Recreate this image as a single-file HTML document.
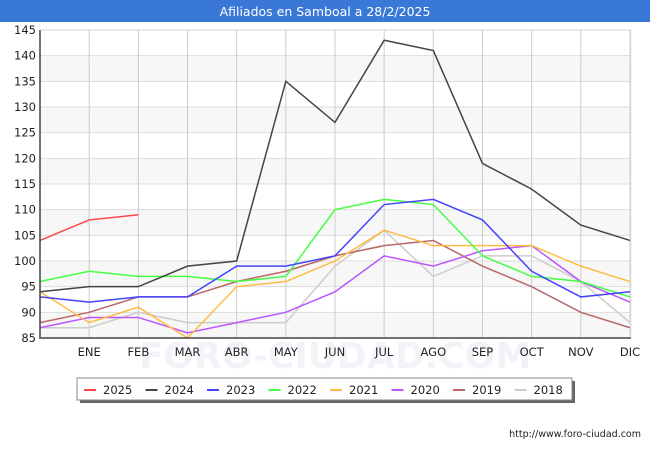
<!DOCTYPE html>
<html><head><meta charset="utf-8"><style>
body{margin:0;width:650px;height:450px;background:#fff;font-family:"DejaVu Sans","Liberation Sans",sans-serif;overflow:hidden}
</style></head><body>
<svg id="c" width="650" height="450" xmlns="http://www.w3.org/2000/svg" font-family="DejaVu Sans, Liberation Sans, sans-serif"></svg>
<script>
const months=["DIC","ENE","FEB","MAR","ABR","MAY","JUN","JUL","AGO","SEP","OCT","NOV","DIC"];
const yTicks=[85,90,95,100,105,110,115,120,125,130,135,140,145];
const seriesNames=["2025","2024","2023","2022","2021","2020","2019","2018"];
const seriesColors=["#ff4444","#444444","#4444ff","#44ff44","#ffbb44","#bb55ff","#bb6666","#cccccc"];
const s2025=[104,108,109];
const s2024=[94,95,95,99,100,135,127,143,141,119,114,107,104];
const s2023=[93,92,93,93,99,99,101,111,112,108,98,93,94];
const s2022=[96,98,97,97,96,97,110,112,111,101,97,96,93];
const s2021=[94,88,91,85,95,96,100,106,103,103,103,99,96];
const s2020=[87,89,89,86,88,90,94,101,99,102,103,96,92];
const s2019=[88,90,93,93,96,98,101,103,104,99,95,90,87];
const s2018=[87,87,90,88,88,88,99,106,97,101,101,96,88];
const seriesData=[s2025,s2024,s2023,s2022,s2021,s2020,s2019,s2018];

const svg=document.getElementById('c');
const NS="http://www.w3.org/2000/svg";
const L=40,R=630,T=30,B=338;
const x=i=>L+i*(R-L)/(months.length-1);
const y=v=>B-(v-85)*(B-T)/(145-85);
function mk(tag,attrs,parent){const e=document.createElementNS(NS,tag);for(const k in attrs)e.setAttribute(k,attrs[k]);(parent||svg).appendChild(e);return e;}

let e=mk('rect',{x:0,y:0,width:650,height:22,fill:"#3a78d8"});


e=mk('text',{x:325,y:16,fill:"#fff","font-size":12.5,"text-anchor":"middle"});e.textContent="Afiliados en Samboal a 28/2/2025";



for(let i=0;i<yTicks.length-1;i++){
  if(i%2===0){e=mk('rect',{x:L,y:y(yTicks[i+1]),width:R-L,height:y(yTicks[i])-y(yTicks[i+1]),fill:"#f7f7f7"});
  
  }
}
e=mk('text',{x:335,y:368,"font-size":36,"text-anchor":"middle",fill:"#f2f3f8","font-weight":"bold"});e.textContent="FORO-CIUDAD.COM";


yTicks.forEach(v=>{
  e=mk('line',{x1:L,x2:R,y1:y(v),y2:y(v),stroke:"#dddddd"});
  
  
  e=mk('text',{x:L-4,y:y(v)+4,"font-size":11.5,"text-anchor":"end",fill:"#222"});e.textContent=v;
  
  
});
months.forEach((m,i)=>{
  if(i===0)return;
  e=mk('line',{x1:x(i),x2:x(i),y1:T,y2:B,stroke:"#cccccc"});
  
  
  e=mk('text',{x:x(i),y:356,"font-size":11.5,"text-anchor":"middle",fill:"#222"});e.textContent=m;
  
  
});

for(let s=seriesData.length-1;s>=0;s--){
  const pts=seriesData[s].map((v,i)=>x(i)+","+y(v)).join(" ");
  e=mk('polyline',{points:pts,fill:"none",stroke:seriesColors[s],"stroke-width":1.5});
  
  
}
e=mk('path',{d:`M${L} ${T}V${B}H${R+1}`,stroke:"#000",fill:"none","stroke-width":1.5});


e=mk('rect',{x:L,y:T,width:R-L+1,height:B-T,fill:"none",stroke:"#ccc","stroke-width":0.5});

e=mk('rect',{x:80,y:381,width:495,height:22,fill:"#666"});


e=mk('rect',{x:77,y:378,width:495,height:22,fill:"#fff",stroke:"#888"});


seriesNames.forEach((n,i)=>{
  const lx=84+i*61.5;
  e=mk('line',{x1:lx,x2:lx+12,y1:390,y2:390,stroke:seriesColors[i],"stroke-width":2});
  
  
  e=mk('text',{x:lx+19,y:394,"font-size":11.5,fill:"#222"});e.textContent=n;
  
  
});
e=mk('text',{x:641,y:437,"font-size":9.5,"text-anchor":"end",fill:"#222"});e.textContent="http://www.foro-ciudad.com";


</script>
</body></html>
